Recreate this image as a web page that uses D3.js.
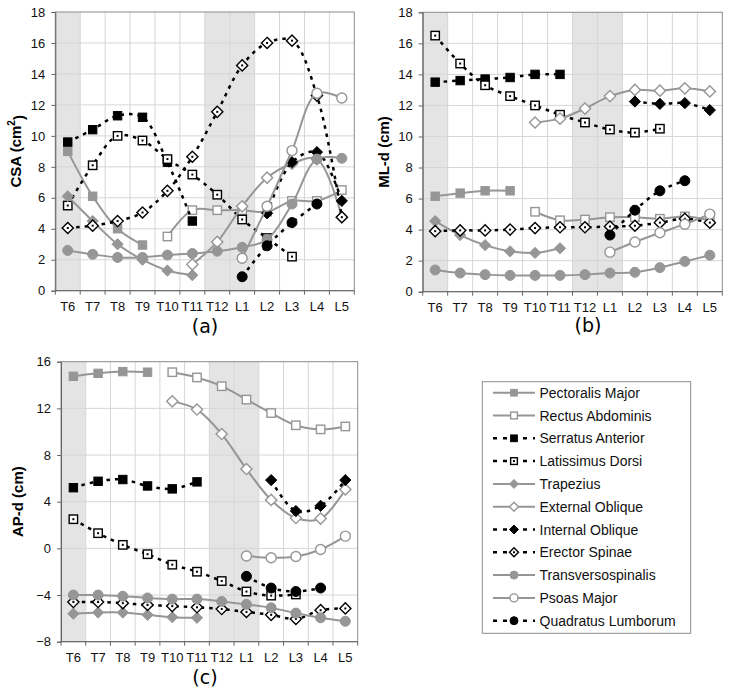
<!DOCTYPE html>
<html><head><meta charset="utf-8">
<script src="https://cdn.jsdelivr.net/npm/d3@7"></script>
<style>body{margin:0;background:#fff}</style>
</head><body>
<svg id="chart" width="729" height="692"></svg>
<script>
// ---------- DATA ----------
const categories = ["T6","T7","T8","T9","T10","T11","T12","L1","L2","L3","L4","L5"];
const shadedCats = ["T6","T12","L1"];
const muscles = ["Pectoralis Major","Rectus Abdominis","Serratus Anterior","Latissimus Dorsi","Trapezius","External Oblique","Internal Oblique","Erector Spinae","Transversospinalis","Psoas Major","Quadratus Lumborum"];
const _ = null;

// (a) CSA (cm2)
const csaPectoralis   = [9.0,6.1,4.0,2.95,_,_,_,_,_,_,_,_];
const csaRectus       = [_,_,_,_,3.5,5.2,5.2,5.2,5.1,5.8,5.8,6.5];
const csaSerratus     = [9.6,10.4,11.3,11.2,8.3,4.5,_,_,_,_,_,_];
const csaLatissimus   = [5.5,8.1,10.0,9.7,8.5,7.5,6.2,4.6,3.4,2.2,_,_];
const csaTrapezius    = [6.1,4.5,3.0,2.0,1.3,1.0,_,_,_,_,_,_];
const csaExtOblique   = [_,_,_,_,_,1.7,3.15,5.45,7.3,8.2,8.5,4.75];
const csaIntOblique   = [_,_,_,_,_,_,_,_,5.0,8.3,8.95,5.8];
const csaErector      = [4.05,4.2,4.5,5.05,6.45,8.65,11.55,14.55,16.0,16.15,12.6,4.75];
const csaTransverso   = [2.6,2.35,2.15,2.15,2.3,2.4,2.55,2.8,3.3,5.6,8.5,8.55];
const csaPsoas        = [_,_,_,_,_,_,_,2.1,5.45,9.05,12.75,12.45];
const csaQuadratus    = [_,_,_,_,_,_,_,0.9,2.9,4.4,5.6,_];

// (b) ML-d (cm)
const mlPectoralis    = [6.15,6.35,6.5,6.5,_,_,_,_,_,_,_,_];
const mlRectus        = [_,_,_,_,5.15,4.6,4.65,4.8,4.8,4.7,4.85,4.6];
const mlSerratus      = [13.5,13.6,13.7,13.8,14.0,14.0,_,_,_,_,_,_];
const mlLatissimus    = [16.5,14.7,13.3,12.6,12.0,11.4,10.9,10.45,10.25,10.5,_,_];
const mlTrapezius     = [4.55,3.65,3.0,2.6,2.5,2.8,_,_,_,_,_,_];
const mlExtOblique    = [_,_,_,_,10.9,11.15,11.8,12.6,13.0,12.95,13.1,12.9];
const mlIntOblique    = [_,_,_,_,_,_,_,_,12.25,12.1,12.15,11.7];
const mlErector       = [3.9,3.95,3.95,4.0,4.1,4.15,4.15,4.2,4.25,4.45,4.7,4.45];
const mlTransverso    = [1.4,1.2,1.1,1.05,1.05,1.05,1.1,1.2,1.25,1.55,1.95,2.35];
const mlPsoas         = [_,_,_,_,_,_,_,2.55,3.2,3.8,4.35,5.0];
const mlQuadratus     = [_,_,_,_,_,_,_,3.65,5.25,6.5,7.15,_];

// (c) AP-d (cm)
const apPectoralis    = [14.75,15.0,15.15,15.1,_,_,_,_,_,_,_,_];
const apRectus        = [_,_,_,_,15.1,14.65,13.9,12.75,11.6,10.55,10.2,10.45];
const apSerratus      = [5.2,5.75,5.9,5.35,5.1,5.7,_,_,_,_,_,_];
const apLatissimus    = [2.5,1.3,0.3,-0.5,-1.4,-2.0,-2.8,-3.7,-4.05,-3.95,_,_];
const apTrapezius     = [-5.6,-5.5,-5.5,-5.7,-5.9,-5.95,_,_,_,_,_,_];
const apExtOblique    = [_,_,_,_,12.6,11.9,9.8,6.8,4.15,2.6,2.55,5.05];
const apIntOblique    = [_,_,_,_,_,_,_,_,5.85,3.2,3.65,5.85];
const apErector       = [-4.6,-4.6,-4.7,-4.85,-4.95,-5.05,-5.2,-5.45,-5.7,-6.05,-5.3,-5.15];
const apTransverso    = [-4.0,-4.0,-4.1,-4.25,-4.35,-4.35,-4.55,-4.8,-5.1,-5.55,-5.95,-6.25];
const apPsoas         = [_,_,_,_,_,_,_,-0.65,-0.8,-0.7,-0.1,1.05];
const apQuadratus     = [_,_,_,_,_,_,_,-2.4,-3.4,-3.7,-3.4,_];

const csaTicks = [0,2,4,6,8,10,12,14,16,18];
const mlTicks  = [0,2,4,6,8,10,12,14,16,18];
const apTicks  = [-8,-4,0,4,8,12,16];

// ---------- STYLES ----------
const GREY = "#969696";
const styles = [
  {shape:"square",  color:GREY,   filled:true,  dashed:false},
  {shape:"square",  color:GREY,   filled:false, dashed:false},
  {shape:"square",  color:"#000", filled:true,  dashed:true},
  {shape:"square",  color:"#000", filled:false, dashed:true},
  {shape:"diamond", color:GREY,   filled:true,  dashed:false},
  {shape:"diamond", color:GREY,   filled:false, dashed:false},
  {shape:"diamond", color:"#000", filled:true,  dashed:true},
  {shape:"diamond", color:"#000", filled:false, dashed:true},
  {shape:"circle",  color:GREY,   filled:true,  dashed:false},
  {shape:"circle",  color:GREY,   filled:false, dashed:false},
  {shape:"circle",  color:"#000", filled:true,  dashed:true},
];

const panels = [
  {x0:55.3, x1:354.3, y0:12, y1:290.7, domain:[0,18], ticks:csaTicks, label:"(a)", labelX:205, labelY:333, titleX:16,
   title:"CSA (cm", sup:"2",
   data:[csaPectoralis,csaRectus,csaSerratus,csaLatissimus,csaTrapezius,csaExtOblique,csaIntOblique,csaErector,csaTransverso,csaPsoas,csaQuadratus]},
  {x0:422.7, x1:722.3, y0:12.3, y1:291.7, domain:[0,18], ticks:mlTicks, label:"(b)", labelX:588, labelY:332, titleX:384,
   title:"ML-d (cm)",
   data:[mlPectoralis,mlRectus,mlSerratus,mlLatissimus,mlTrapezius,mlExtOblique,mlIntOblique,mlErector,mlTransverso,mlPsoas,mlQuadratus]},
  {x0:61, x1:357.7, y0:361.7, y1:641.7, domain:[-8,16], ticks:apTicks, label:"(c)", labelX:205, labelY:684, titleX:18,
   title:"AP-d (cm)",
   data:[apPectoralis,apRectus,apSerratus,apLatissimus,apTrapezius,apExtOblique,apIntOblique,apErector,apTransverso,apPsoas,apQuadratus]},
];

const svg = d3.select("#chart");
svg.append("rect").attr("width",729).attr("height",692).attr("fill","#fff");

function drawMarker(g, st, x, y, scale) {
  const s = scale || 1;
  const fill = st.filled ? st.color : "#fff";
  let m;
  if (st.shape === "square") {
    const h = 4.2*s;
    m = g.append("rect").attr("x",x-h).attr("y",y-h).attr("width",2*h).attr("height",2*h);
  } else if (st.shape === "diamond") {
    const h = 5.6*s;
    m = g.append("path").attr("d",`M${x},${y-h}L${x+h},${y}L${x},${y+h}L${x-h},${y}Z`);
  } else {
    m = g.append("circle").attr("cx",x).attr("cy",y).attr("r",5*s);
  }
  m.attr("fill",fill).attr("stroke",st.color).attr("stroke-width",st.filled?1:1.4);
  if (!st.filled && st.dashed) {
    g.append("rect").attr("x",x-1).attr("y",y-1).attr("width",2).attr("height",2).attr("fill","#000");
  }
}

panels.forEach(p => {
  const g = svg.append("g");
  const x = d3.scaleBand().domain(categories).range([p.x0,p.x1]).padding(0);
  const y = d3.scaleLinear().domain(p.domain).range([p.y1,p.y0]);
  const bw = x.bandwidth();
  const cx = c => x(c) + bw/2;

  g.selectAll(".shade").data(shadedCats).join("rect")
    .attr("x", d => x(d)).attr("y", p.y0).attr("width", bw).attr("height", p.y1-p.y0)
    .attr("fill","#e4e4e4");
  g.selectAll(".vg").data(categories.slice(1)).join("line")
    .attr("x1", d => x(d)).attr("x2", d => x(d)).attr("y1", p.y0).attr("y2", p.y1)
    .attr("stroke","#d6d6d6").attr("stroke-width",1);
  g.selectAll(".hg").data(p.ticks.slice(1,-1)).join("line")
    .attr("x1", p.x0).attr("x2", p.x1).attr("y1", d => y(d)).attr("y2", d => y(d))
    .attr("stroke","#d6d6d6").attr("stroke-width",1);
  g.append("rect").attr("x",p.x0).attr("y",p.y0).attr("width",p.x1-p.x0).attr("height",p.y1-p.y0)
    .attr("fill","none").attr("stroke","#8a8a8a").attr("stroke-width",1);

  const ya = g.append("g").attr("transform",`translate(${p.x0},0)`)
    .call(d3.axisLeft(y).tickValues(p.ticks).tickSize(4).tickPadding(6).tickFormat(d3.format("d")));
  ya.select(".domain").attr("stroke","#666");
  ya.selectAll(".tick line").attr("stroke","#666");
  ya.selectAll("text").attr("font-family","Liberation Sans, Arial, sans-serif").attr("font-size",13).attr("fill","#111");

  g.append("line").attr("x1",p.x0).attr("x2",p.x1).attr("y1",p.y1).attr("y2",p.y1).attr("stroke","#666");
  g.selectAll(".xt").data(categories.concat(["end"])).join("line")
    .attr("x1",(d,i)=>p.x0+i*bw).attr("x2",(d,i)=>p.x0+i*bw).attr("y1",p.y1).attr("y2",p.y1+4)
    .attr("stroke","#666");
  g.selectAll(".xl").data(categories).join("text")
    .attr("x", d => cx(d)).attr("y", p.y1+20).attr("text-anchor","middle")
    .attr("font-family","Liberation Sans, Arial, sans-serif").attr("font-size",13).attr("fill","#111")
    .text(d => d);

  const ty = (p.y0+p.y1)/2;
  const t = g.append("text").attr("transform",`translate(${p.titleX},${ty}) rotate(-90)`)
    .attr("text-anchor","middle").attr("dy","0.35em")
    .attr("font-family","Liberation Sans, Arial, sans-serif").attr("font-size",15).attr("font-weight","bold").attr("fill","#000");
  t.append("tspan").text(p.title);
  if (p.sup) {
    t.append("tspan").attr("font-size",10).attr("dy","-0.6em").text(p.sup);
    t.append("tspan").attr("dy","0.6em").text(")");
  }
  g.append("text").attr("x",p.labelX).attr("y",p.labelY).attr("text-anchor","middle")
    .attr("font-family","DejaVu Sans, Verdana, sans-serif").attr("font-size",19).attr("fill","#000")
    .text(p.label);

  p.data.forEach((vals, si) => {
    const st = styles[si];
    const pts = categories.map((c,i) => ({c, v: vals[i]}));
    const line = d3.line().defined(d => d.v !== null).x(d => cx(d.c)).y(d => y(d.v))
      .curve(d3.curveCatmullRom.alpha(0.5));
    const sg = g.append("g");
    sg.append("path").attr("d", line(pts)).attr("fill","none")
      .attr("stroke", st.color).attr("stroke-width", st.dashed ? 2.5 : 2)
      .attr("stroke-dasharray", st.dashed ? "3.5,5" : null);
    pts.filter(d => d.v !== null).forEach(d => drawMarker(sg, st, cx(d.c), y(d.v)));
  });
});

// ---------- LEGEND ----------
const lg = svg.append("g");
lg.append("rect").attr("x",482.3).attr("y",381.7).attr("width",208.4).attr("height",251.6)
  .attr("fill","#fff").attr("stroke","#8a8a8a").attr("stroke-width",1);
muscles.forEach((name, i) => {
  const st = styles[i];
  const yy = 392.7 + i*22.8;
  lg.append("line").attr("x1",493).attr("x2",535).attr("y1",yy).attr("y2",yy)
    .attr("stroke",st.color).attr("stroke-width",st.dashed?2.5:2)
    .attr("stroke-dasharray", st.dashed ? "4,6" : null);
  drawMarker(lg, st, 514, yy, 0.8);
  lg.append("text").attr("x",539.5).attr("y",yy).attr("dy","0.36em")
    .attr("font-family","Liberation Sans, Arial, sans-serif").attr("font-size",14).attr("fill","#111")
    .text(name);
});
</script>
</body></html>
